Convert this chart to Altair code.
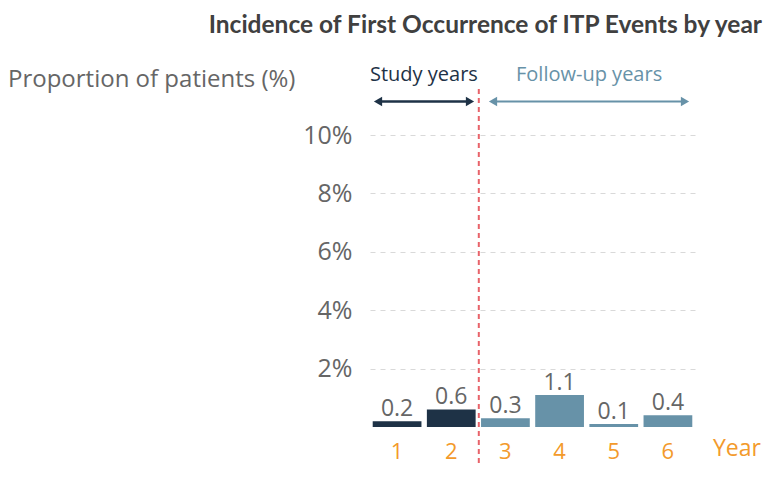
import altair as alt
import pandas as pd

years = ["1", "2", "3", "4", "5", "6"]
values = [0.2, 0.6, 0.3, 1.1, 0.1, 0.4]
groups = ["Study", "Study", "Follow-up", "Follow-up", "Follow-up", "Follow-up"]
y_ticks = [2, 4, 6, 8, 10]

title_text = "Incidence of First Occurrence of ITP Events by year"
y_title = "Proportion of patients (%)"
x_title = "Year"
study_label = "Study years"
follow_label = "Follow-up years"

DARK = "#1E3246"
LIGHT = "#6792A8"
ORANGE = "#F39A2B"
GRAY = "#666666"
RED = "#E8636A"
FONT = "Open Sans"

df = pd.DataFrame({"year": years, "value": values, "group": groups})
one = pd.DataFrame({"a": [0]})

W, H = 325, 292

xenc = alt.X("year:N", sort=years,
             scale=alt.Scale(paddingInner=0.1, paddingOuter=0.05),
             axis=alt.Axis(title=None, labelAngle=0, labelColor=ORANGE, labelFontSize=22,
                           labelFont=FONT, labelPadding=14, ticks=False, domain=False, grid=False))
yenc = alt.Y("value:Q", scale=alt.Scale(domain=[0, 10]),
             axis=alt.Axis(title=None, values=y_ticks, labelExpr="datum.value + '%'",
                           labelColor=GRAY, labelFontSize=25, labelFont=FONT, labelPadding=18,
                           ticks=False, domain=False, grid=True, gridColor="#d9d9d9",
                           gridDash=[5, 5], gridWidth=1))

bars = alt.Chart(df).mark_bar().encode(
    x=xenc, y=yenc,
    color=alt.Color("group:N", scale=alt.Scale(domain=["Study", "Follow-up"], range=[DARK, LIGHT]), legend=None),
)
labels = alt.Chart(df).mark_text(dy=-5, baseline="alphabetic", fontSize=23, font=FONT, color=GRAY).encode(
    x=alt.X("year:N", sort=years), y="value:Q", text=alt.Text("value:Q", format=".1f"))

base = alt.Chart(one)
divider = base.mark_rule(color=RED, strokeDash=[5, 4], strokeWidth=2).encode(
    x=alt.value(108.8), y=alt.value(-46), y2=alt.value(330))

dark_rule = base.mark_rule(color=DARK, strokeWidth=2.5).encode(
    x=alt.value(8), x2=alt.value(100), y=alt.value(-33.5))
dark_l = base.mark_point(shape="triangle-left", size=90, filled=True, opacity=1, color=DARK).encode(
    x=alt.value(8), y=alt.value(-33.5))
dark_r = base.mark_point(shape="triangle-right", size=90, filled=True, opacity=1, color=DARK).encode(
    x=alt.value(100), y=alt.value(-33.5))
light_rule = base.mark_rule(color=LIGHT, strokeWidth=2).encode(
    x=alt.value(123), x2=alt.value(315), y=alt.value(-33.5))
light_l = base.mark_point(shape="triangle-left", size=90, filled=True, opacity=1, color=LIGHT).encode(
    x=alt.value(123), y=alt.value(-33.5))
light_r = base.mark_point(shape="triangle-right", size=90, filled=True, opacity=1, color=LIGHT).encode(
    x=alt.value(315), y=alt.value(-33.5))

study_txt = base.mark_text(text=study_label, align="left", baseline="middle", fontSize=20, font=FONT, color=DARK).encode(
    x=alt.value(0), y=alt.value(-60))
follow_txt = base.mark_text(text=follow_label, align="left", baseline="middle", fontSize=20, font=FONT, color=LIGHT).encode(
    x=alt.value(146), y=alt.value(-60))
title_txt = base.mark_text(text=title_text, align="right", baseline="alphabetic", fontSize=24.5, fontWeight="bold", font="Lato", color="#404040").encode(
    x=alt.value(392), y=alt.value(-102.5))
ytitle_txt = base.mark_text(text=y_title, align="left", baseline="middle", fontSize=24, font=FONT, color=GRAY).encode(
    x=alt.value(-362), y=alt.value(-55))
xtitle_txt = base.mark_text(text=x_title, align="left", baseline="alphabetic", fontSize=23, font=FONT, color=ORANGE).encode(
    x=alt.value(343), y=alt.value(321))

chart = alt.layer(
    bars, labels, divider, dark_rule, dark_l, dark_r, light_rule, light_l, light_r,
    study_txt, follow_txt, title_txt, ytitle_txt, xtitle_txt
).properties(
    width=W, height=H,
    autosize=alt.AutoSizeParams(type="none"),
    padding={"left": 362, "top": 127, "right": 71, "bottom": 39},
).configure_view(stroke=None)

chart.save("out.html", embed_options={"renderer": "svg", "actions": False})
